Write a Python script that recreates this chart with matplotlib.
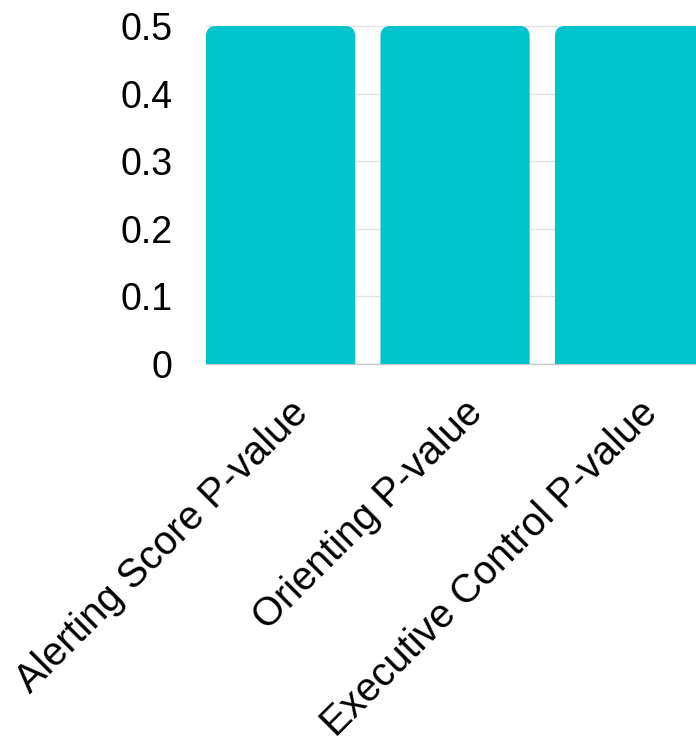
import matplotlib
matplotlib.use("Agg")
import matplotlib.pyplot as plt
import matplotlib.transforms as mtransforms
from matplotlib.patches import FancyBboxPatch

categories = ["Alerting Score P-value", "Orienting P-value", "Executive Control P-value"]
values = [0.5, 0.5, 0.5]
yticks = [0, 0.1, 0.2, 0.3, 0.4, 0.5]
ytick_labels = ["0", "0.1", "0.2", "0.3", "0.4", "0.5"]

plt.rcParams['font.family'] = ['Liberation Sans', 'DejaVu Sans']

W, H = 696, 741
fig = plt.figure(figsize=(W / 100, H / 100), dpi=100)
ax_left, ax_right = 206, 696
ax_bottom, ax_top = 364, 12.5
ax = fig.add_axes([ax_left / W, (H - ax_bottom) / H,
                   (ax_right - ax_left) / W, (ax_bottom - ax_top) / H])

color = "#00C4CC"
bar_w = 0.855
x = list(range(len(categories)))
bars = ax.bar(x, values, width=bar_w, color=color, zorder=2)

ax.set_xlim(-0.4275, 2.381)
ax.set_ylim(0, 0.52)

# rounded top corners
px_x = (ax_right - ax_left) / (2.381 + 0.4275)
px_y = (ax_bottom - ax_top) / 0.52
r_px = 10
r_x = r_px / px_x
aspect = (1 / px_y) / (1 / px_x)
for b in bars:
    bx, bw, bh = b.get_x(), b.get_width(), b.get_height()
    b.set_visible(False)
    p = FancyBboxPatch((bx, -0.05), bw, bh + 0.05,
                       boxstyle=f"round,pad=0,rounding_size={r_x}",
                       mutation_aspect=aspect, facecolor=color,
                       edgecolor="none", zorder=2)
    ax.add_patch(p)

ax.set_yticks(yticks)
ax.set_yticklabels(ytick_labels)
ax.yaxis.grid(True, color="#e3e3e3", linewidth=1, zorder=0)
ax.set_axisbelow(True)
for s in ["top", "right", "left"]:
    ax.spines[s].set_visible(False)
ax.spines["bottom"].set_color("#c8c8c8")
ax.spines["bottom"].set_linewidth(1)
ax.spines["bottom"].set_zorder(1)
ax.tick_params(axis="both", length=0, labelsize=27, labelcolor="black")
ax.tick_params(axis="y", pad=24)
ax.set_xticks(x)
ax.set_xticklabels(categories, rotation=45, ha="right", va="top",
                   rotation_mode="anchor", fontsize=28.6)
ax.tick_params(axis="x", pad=21)
offset = mtransforms.ScaledTranslation(8 / 100, 0, fig.dpi_scale_trans)
for lbl in ax.get_xticklabels():
    lbl.set_transform(lbl.get_transform() + offset)

fig.savefig("out.png", dpi=100)
